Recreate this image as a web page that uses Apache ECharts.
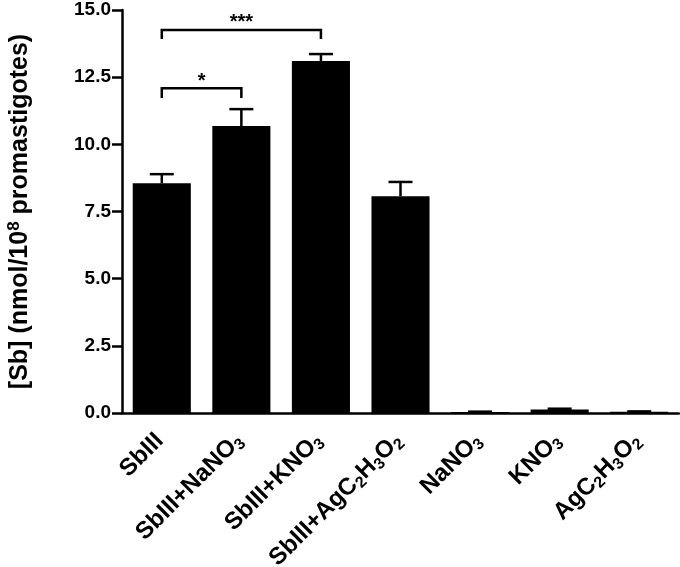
<!DOCTYPE html>
<html>
<head>
<meta charset="utf-8">
<script src="https://cdn.jsdelivr.net/npm/echarts@6/dist/echarts.min.js"></script>
<style>
  html, body { margin: 0; padding: 0; background: #fff; }
  #grafico { width: 680px; height: 567px; }
</style>
</head>
<body>
<div id="grafico"></div>
<script>
// datos
const categorias = ["SbIII", "SbIII+NaNO3", "SbIII+KNO3", "SbIII+AgC2H3O2", "NaNO3", "KNO3", "AgC2H3O2"];
const medias = [8.55, 10.68, 13.1, 8.07, 0.04, 0.13, 0.05];
const errores = [0.34, 0.63, 0.26, 0.53, 0.01, 0.03, 0.01];
const ticksY = [0, 2.5, 5, 7.5, 10, 12.5, 15];
// [desde, hasta, altura linea, altura patas, texto]
const corchetes = [
  [0, 1, 12.09, 11.72, "*"],
  [0, 2, 14.26, 13.92, "***"]
];

const fuente = "Liberation Sans, Arial, sans-serif";
const chart = echarts.init(document.getElementById("grafico"), null, { renderer: "canvas" });

// numeros como subindices (rich text)
const conSubindices = s => s.replace(/(\d)/g, "{s|$1}");

const option = {
  backgroundColor: "#fff",
  animation: false,
  grid: { left: 122, right: 1, top: 10, bottom: 154, containLabel: false, outerBoundsMode: "none" },
  xAxis: {
    type: "category",
    data: categorias,
    axisLine: { lineStyle: { color: "#000", width: 2.5 } },
    axisTick: { alignWithLabel: true, length: 10, lineStyle: { color: "#000", width: 2.5 } },
    axisLabel: {
      rotate: 45,
      interval: 0,
      margin: 22,
      padding: [0, 3, 0, 0],
      color: "#000",
      fontFamily: fuente,
      fontWeight: "bold",
      fontSize: 24,
      formatter: v => conSubindices(v),
      rich: {
        s: { fontSize: 16, fontWeight: "bold", fontFamily: fuente, color: "#000", padding: [12, 0, 0, 0] }
      }
    }
  },
  yAxis: {
    type: "value",
    min: 0,
    max: 15,
    interval: 2.5,
    name: "[Sb] (nmol/10{sup|8} promastigotes)",
    nameLocation: "middle",
    nameRotate: 90,
    nameGap: 87,
    nameTextStyle: {
      color: "#000",
      fontFamily: fuente,
      fontWeight: "bold",
      fontSize: 25,
      rich: {
        sup: { fontSize: 17, fontWeight: "bold", fontFamily: fuente, color: "#000", padding: [0, 0, 12, 0] }
      }
    },
    axisLine: { show: true, lineStyle: { color: "#000", width: 2.5 } },
    axisTick: { show: true, length: 10, lineStyle: { color: "#000", width: 2.5 } },
    splitLine: { show: false },
    axisLabel: {
      color: "#000",
      fontFamily: fuente,
      fontWeight: "bold",
      fontSize: 19,
      margin: 11,
      formatter: v => ticksY.includes(v) ? v.toFixed(1) : ""
    }
  },
  series: [
    {
      name: "Sb",
      type: "bar",
      data: medias,
      barCategoryGap: "27%",
      itemStyle: { color: "#000" },
      z: 2
    },
    {
      name: "Error",
      type: "custom",
      data: medias.map((m, i) => [i, m, m + errores[i]]),
      renderItem: (params, api) => {
        const base = api.coord([api.value(0), api.value(1)]);
        const tope = api.coord([api.value(0), api.value(2)]);
        const ancho = 24;
        const estilo = { stroke: "#000", lineWidth: 2.5 };
        return {
          type: "group",
          children: [
            { type: "line", shape: { x1: base[0], y1: base[1], x2: tope[0], y2: tope[1] }, style: estilo },
            { type: "line", shape: { x1: tope[0] - ancho / 2, y1: tope[1], x2: tope[0] + ancho / 2, y2: tope[1] }, style: estilo }
          ]
        };
      },
      z: 3
    },
    {
      name: "Significancia",
      type: "custom",
      data: corchetes,
      renderItem: (params, api) => {
        const a = api.coord([api.value(0), api.value(2)]);
        const b = api.coord([api.value(1), api.value(2)]);
        const pata = api.coord([api.value(0), api.value(3)]);
        const estilo = { stroke: "#000", lineWidth: 2.5, fill: null };
        const texto = corchetes[params.dataIndex][4];
        return {
          type: "group",
          children: [
            {
              type: "polyline",
              shape: { points: [[a[0], pata[1]], [a[0], a[1]], [b[0], a[1]], [b[0], pata[1]]] },
              style: estilo
            },
            {
              type: "text",
              style: {
                x: (a[0] + b[0]) / 2,
                y: a[1] + 3,
                text: texto,
                fill: "#000",
                font: "bold 20px " + fuente,
                align: "center",
                verticalAlign: "bottom"
              }
            }
          ]
        };
      },
      z: 3
    }
  ]
};

chart.setOption(option);
</script>
</body>
</html>
